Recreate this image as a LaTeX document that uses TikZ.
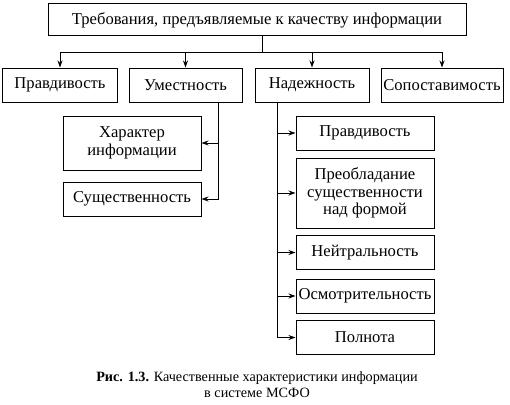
\documentclass[tikz,border=0pt]{standalone}
\usepackage{fontspec}
\setmainfont{Liberation Serif}
\usetikzlibrary{arrows.meta}
\begin{document}
\begin{tikzpicture}[x=1pt,y=-1pt,
  box/.style={draw, line width=1pt, inner sep=0pt, align=center, font=\fontsize{16.6}{17.5}\selectfont},
  arr/.style={-{Stealth[length=7pt,width=5pt]}, line width=0.9pt},
  ln/.style={line width=0.9pt}]
\useasboundingbox (0,0) rectangle (510,404);
\node[box, minimum width=418pt, minimum height=32pt] (top) at (257,20) {Требования, предъявляемые к качеству информации};
\node[box, minimum width=115pt, minimum height=34pt] (p1) at (60,85) {Правдивость};
\node[box, minimum width=113pt, minimum height=34pt] (p2) at (185.5,85) {Уместность};
\node[box, minimum width=114pt, minimum height=34pt] (p3) at (312,85) {Надежность};
\node[box, minimum width=122pt, minimum height=34pt] (p4) at (442,85) {Сопоставимость};
\node[box, minimum width=138pt, minimum height=54pt] (u1) at (132,143) {Характер\\информации};
\node[box, minimum width=138pt, minimum height=34pt] (u2) at (132,199) {Существенность};
\node[box, minimum width=138pt, minimum height=34pt] (n1) at (365,133) {Правдивость};
\node[box, minimum width=138pt, minimum height=70pt] (n2) at (365,193) {Преобладание\\существенности\\над формой};
\node[box, minimum width=138pt, minimum height=34pt] (n3) at (365,252.5) {Нейтральность};
\node[box, minimum width=138pt, minimum height=34pt] (n4) at (365,296) {Осмотрительность};
\node[box, minimum width=138pt, minimum height=34pt] (n5) at (365,337.5) {Полнота};
\node[font=\fontsize{14.2}{16}\selectfont, align=center] (cap) at (257,385) {\textbf{Рис. 1.3.} Качественные характеристики информации\\в системе МСФО};
% top connectors
\coordinate (bus) at (262,52);
\draw[ln] (top.south -| bus) -- (bus);
\draw[ln] (bus -| p1) -- (bus -| p4);
\draw[arr] (bus -| p1) -- (p1.north);
\draw[arr] (bus -| p2) -- (p2.north);
\draw[arr] (bus -| p3) -- (p3.north);
\draw[arr] (bus -| p4) -- (p4.north);
% Уместность
\coordinate (ub) at (218,102);
\draw[arr] (ub) |- (u2.east);
\draw[arr] (ub |- u1.east) -- (u1.east);
% Надежность
\coordinate (nb) at (277,102);
\draw[arr] (nb) |- (n5.west);
\draw[arr] (nb |- n1.west) -- (n1.west);
\draw[arr] (nb |- n2.west) -- (n2.west);
\draw[arr] (nb |- n3.west) -- (n3.west);
\draw[arr] (nb |- n4.west) -- (n4.west);
\end{tikzpicture}
\end{document}
